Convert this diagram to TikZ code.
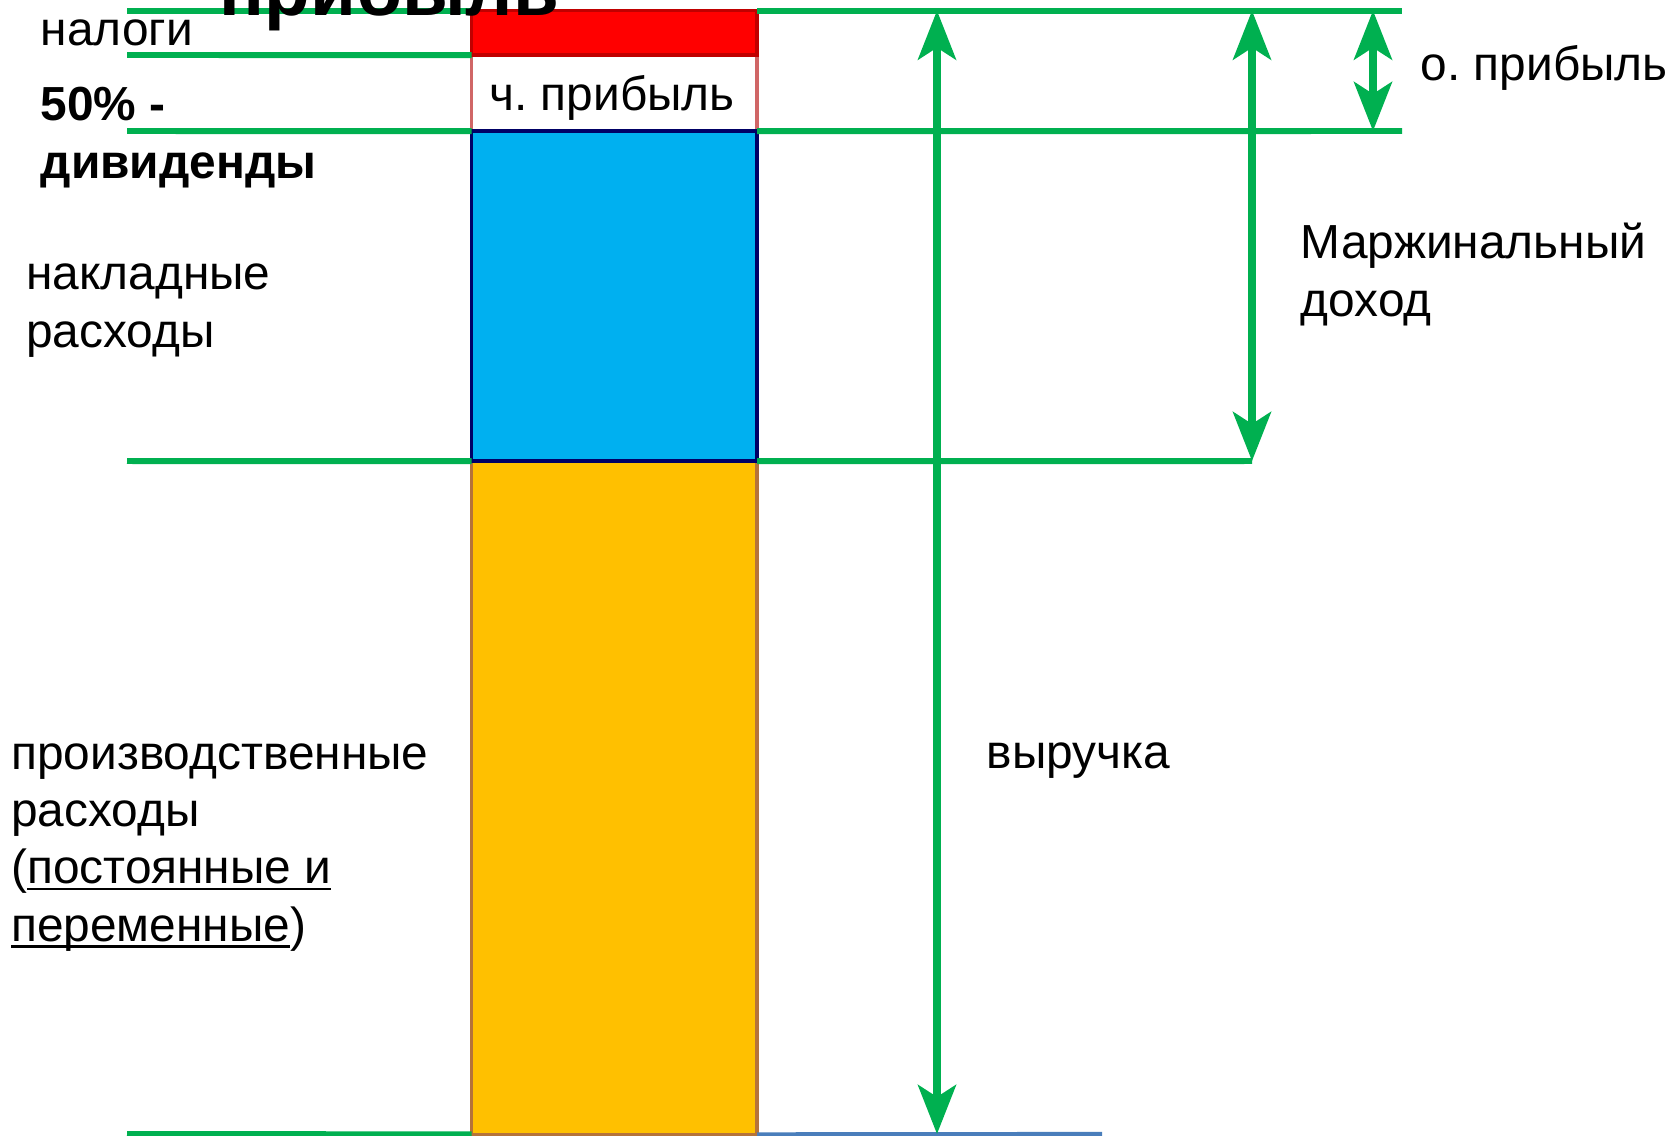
\documentclass[tikz,border=0pt]{standalone}
\usepackage{fontspec}
\setmainfont{Liberation Sans}
\usetikzlibrary{positioning,arrows.meta}
\definecolor{lineGreen}{HTML}{00B050}
\definecolor{taxRed}{HTML}{FF0000}
\definecolor{taxEdge}{HTML}{C00000}
\definecolor{netEdge}{HTML}{D06666}
\definecolor{overBlue}{HTML}{00B0F0}
\definecolor{overEdge}{HTML}{000066}
\definecolor{prodOrange}{HTML}{FFC000}
\definecolor{prodEdge}{HTML}{B5733A}
\definecolor{baseBlue}{HTML}{4A7EBB}
\newcommand\ulword[1]{\setbox0\hbox{#1}\rlap{\rule[-0.14em]{\wd0}{0.06em}}\box0}
\frenchspacing

\begin{document}
\begin{tikzpicture}[x=0.01cm,y=-0.01cm,
    every node/.style={font=\fontsize{13.6}{16.3}\selectfont},
    level/.style={draw=lineGreen,line width=1.7pt},
    dim/.style={draw=lineGreen,line width=2pt,{Stealth[length=0.49cm,width=0.38cm,inset=0.12cm]}-{Stealth[length=0.49cm,width=0.38cm,inset=0.12cm]}},
    part/.style={inner sep=0,outer sep=0,minimum width=2.855cm,anchor=north west,line width=1pt},
    lbl/.style={anchor=base west,inner sep=0,align=left}]
  \useasboundingbox (0,0) rectangle (1669,1136);
  \node[part,draw=prodEdge,fill=prodOrange,minimum height=6.73cm] (prod) at (471.5,461) {};
  \node[part,draw=netEdge,fill=white,minimum height=0.76cm] (net) at (471.5,55) {};
  \node[part,draw=taxEdge,fill=taxRed,minimum height=0.444cm] (tax) at (471.5,10.6) {};
  \node[part,draw=overEdge,fill=overBlue,minimum height=3.30cm] (over) at (471.5,131) {};
  \node[anchor=base,inner sep=0] (netlbl) at (612,110) {ч. прибыль};

  \coordinate (topL) at (127,10.6);
  \coordinate (topR) at (1402,10.6);
  \coordinate (taxL) at (127,55);
  \coordinate (netL) at (127,131);
  \coordinate (netR) at (1402,131);
  \coordinate (overL) at (127,461);
  \coordinate (overR) at (1252,461);
  \coordinate (baseL) at (127,1134);
  \coordinate (baseR) at (1102,1134);
  \draw[level] (topL) -- (tax.north west);
  \draw[level] (tax.north east) -- (topR);
  \draw[level] (taxL) -- (tax.south west);
  \draw[level] (netL) -- (net.south west);
  \draw[level] (net.south east) -- (netR);
  \draw[level] (overL) -- (over.south west);
  \draw[level] (over.south east) -- (overR);
  \draw[level] (baseL) -- (prod.south west);
  \draw[draw=baseBlue,line width=1.2pt] (prod.south east) -- (baseR);

  \coordinate (revT) at (937,10.6);
  \coordinate (revB) at (937,1134);
  \coordinate (margT) at (1252,10.6);
  \coordinate (opT) at (1373,10.6);
  \coordinate (opB) at (1373,131);
  \draw[dim] (revT) -- (revB);
  \draw[dim] (margT) -- (overR);
  \draw[dim] (opT) -- (opB);

  \node[lbl] (taxlbl) at (40,45) {налоги};
  \node[lbl,font=\fontsize{13.6}{16.3}\selectfont\bfseries] (divlbl) at (40,178) {50\% -\\дивиденды};
  \node[lbl] (overlbl) at (25.5,347) {накладные\\расходы};
  \node[lbl] (prodlbl) at (10.6,941) {производственные\\расходы\\(\ulword{постоянные и}\\\ulword{переменные})};
  \node[lbl] (revlbl) at (986,768) {выручка};
  \node[lbl] (marglbl) at (1300,316) {Маржинальный\\доход};
  \node[lbl] (oplbl) at (1420,80) {о. прибыль};
  \node[lbl,font=\fontsize{21.2}{25}\selectfont\bfseries] (profitlbl) at (219,15) {прибыль};
\end{tikzpicture}
\end{document}
